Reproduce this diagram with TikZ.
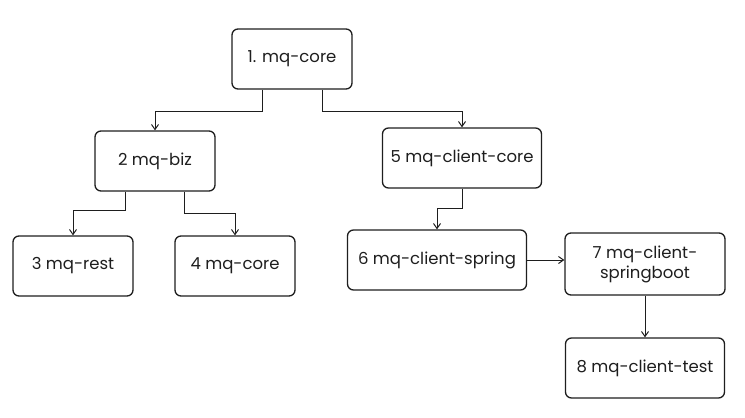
\documentclass[tikz,border=0pt]{standalone}
\usepackage{fontspec}
\setmainfont{Poppins}
\usetikzlibrary{arrows.meta}
\definecolor{ink}{HTML}{1E1E1E}

\begin{document}
\begin{tikzpicture}[x=1pt,y=-1pt,
  module/.style={draw=ink,line width=1.3pt,rounded corners=6pt,fill=white,
    minimum height=60pt,inner sep=1pt,text=ink,font=\fontsize{16.5}{20}\selectfont,align=center},
  arr/.style={draw=ink,line width=1pt,-{Straight Barb[length=5pt,width=7pt]}}]

\useasboundingbox (0,0) rectangle (745,418);

%Placing modules
\node [module,minimum width=120pt] (core) at (292,59) {1. mq-core};
\node [module,minimum width=120pt] (biz) at (155,161) {2 mq-biz};
\node [module,minimum width=120pt] (rest) at (73,266) {3 mq-rest};
\node [module,minimum width=120pt] (core2) at (235,266) {4 mq-core};
\node [module,minimum width=159pt] (clicore) at (462,158) {5 mq-client-core};
\node [module,minimum width=179pt] (spring) at (437,260) {6 mq-client-spring};
\node [module,minimum width=160pt,minimum height=62pt] (boot) at (645,264) {7 mq-client-\\springboot};
\node [module,minimum width=159pt] (test) at (645,368) {8 mq-client-test};

%Drawing dependencies
\draw [arr] ([xshift=-30pt]core.south) -- ++(0,22) -| (biz.north);
\draw [arr] ([xshift=30pt]core.south) -- ++(0,22) -| (clicore.north);
\draw [arr] ([xshift=-30pt]biz.south) -- ++(0,19) -| (rest.north);
\draw [arr] ([xshift=29pt]biz.south) -- ++(0,22) -| (core2.north);
\draw [arr] (clicore.south) -- ++(0,20) -| (spring.north);
\draw [arr] (spring.east) -- (spring.east -| boot.west);
\draw [arr] (boot.south) -- (test.north);
\end{tikzpicture}
\end{document}
